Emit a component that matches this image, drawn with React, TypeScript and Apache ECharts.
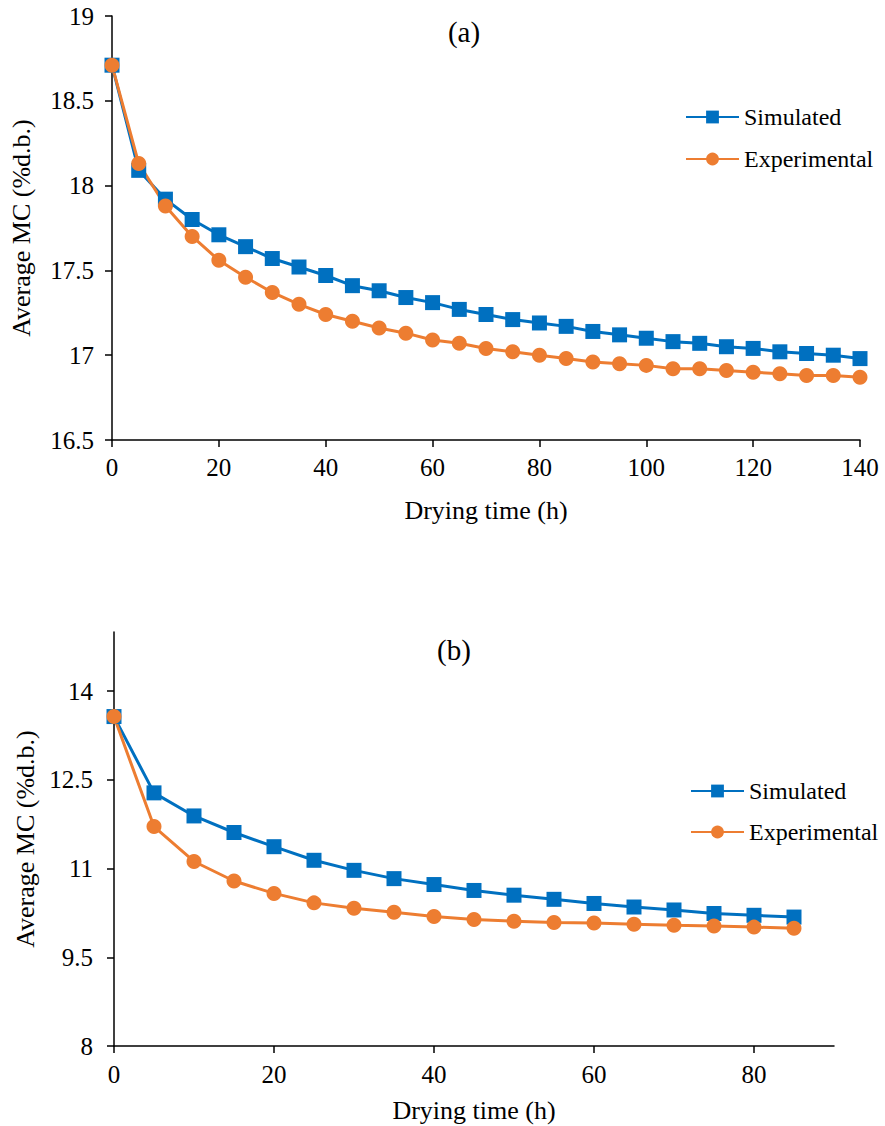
import React, { useEffect, useRef } from "react";
import * as echarts from "echarts";

const timeA = [0,5,10,15,20,25,30,35,40,45,50,55,60,65,70,75,80,85,90,95,100,105,110,115,120,125,130,135,140];
const simA = [18.71,18.09,17.92,17.80,17.71,17.64,17.57,17.52,17.47,17.41,17.38,17.34,17.31,17.27,17.24,17.21,17.19,17.17,17.14,17.12,17.10,17.08,17.07,17.05,17.04,17.02,17.01,17.00,16.98];
const expA = [18.71,18.13,17.88,17.70,17.56,17.46,17.37,17.30,17.24,17.20,17.16,17.13,17.09,17.07,17.04,17.02,17.00,16.98,16.96,16.95,16.94,16.92,16.92,16.91,16.90,16.89,16.88,16.88,16.87];

const timeB = [0,5,10,15,20,25,30,35,40,45,50,55,60,65,70,75,80,85];
const simB = [13.57,12.28,11.89,11.61,11.37,11.14,10.97,10.83,10.73,10.63,10.55,10.48,10.41,10.35,10.30,10.24,10.21,10.18];
const expB = [13.57,11.71,11.12,10.79,10.58,10.42,10.33,10.26,10.19,10.14,10.11,10.09,10.08,10.06,10.04,10.03,10.01,9.99];

const xTicksB = [0,20,40,60,80];
const yTicksB = [8,9.5,11,12.5,14];

const BLUE = "#0070C0";
const ORANGE = "#ED7D31";
const FONT = "Liberation Serif";

export default function App() {
  const ref = useRef<HTMLDivElement>(null);
  useEffect(() => {
    if (!ref.current) return;
    const chart = echarts.init(ref.current, null, { renderer: "svg" });
    const axisCommon = {
      axisLine: { show: true, lineStyle: { color: "#000", width: 1.5 } },
      axisTick: { show: true, inside: false, length: 7, lineStyle: { color: "#000", width: 1.5 } },
      splitLine: { show: false },
      nameTextStyle: { color: "#000", fontFamily: FONT, fontSize: 26 },
    };
    const label = (margin: number) => ({ color: "#000", fontFamily: FONT, fontSize: 25, margin });
    const zipper = (xs: number[], ys: number[]) => xs.map((x, i) => [x, ys[i]]);
    const seriesStyle = (name: string, color: string, symbol: string, xi: number, data: number[][]) => ({
      name,
      type: "line",
      xAxisIndex: xi,
      yAxisIndex: xi,
      data,
      symbol,
      symbolSize: 15,
      showAllSymbol: true,
      lineStyle: { color, width: 3 },
      itemStyle: { color },
      emphasis: { disabled: true },
    });
    const titleStyle = { fontFamily: FONT, fontSize: 29, fontWeight: "normal", color: "#000" };
    const legendText = { fontFamily: FONT, fontSize: 24, color: "#000" };
    chart.setOption({
      animation: false,
      backgroundColor: "#fff",
      title: [
        { text: "(a)", left: 459, top: 12, textAlign: "center", textStyle: titleStyle },
        { text: "(b)", left: 449, top: 630, textAlign: "center", textStyle: titleStyle },
      ],
      legend: [
        {
          orient: "vertical", left: 685, top: 105, padding: 0, itemWidth: 53, itemHeight: 16, itemGap: 18,
          data: ["Simulated", "Experimental"],
          textStyle: legendText,
          selectedMode: false,
        },
        {
          orient: "vertical", left: 690, top: 779, padding: 0, itemWidth: 53, itemHeight: 16, itemGap: 17,
          data: ["Simulated", "Experimental"],
          textStyle: legendText,
          selectedMode: false,
        },
      ],
      grid: [
        { left: 111, top: 16, width: 749, height: 424 },
        { left: 114, top: 632, width: 720, height: 414 },
      ],
      xAxis: [
        {
          ...axisCommon, gridIndex: 0, type: "value", min: 0, max: 140, interval: 20,
          name: "Drying time (h)", nameLocation: "middle", nameGap: 57,
          axisLabel: label(15),
        },
        {
          ...axisCommon, gridIndex: 1, type: "value", min: 0, max: 90,
          name: "Drying time (h)", nameLocation: "middle", nameGap: 51,
          axisTick: { ...axisCommon.axisTick, customValues: xTicksB },
          axisLabel: { ...label(16), customValues: xTicksB },
        },
      ],
      yAxis: [
        {
          ...axisCommon, gridIndex: 0, type: "value", min: 16.5, max: 19, interval: 0.5,
          name: "Average MC (%d.b.)", nameLocation: "middle", nameRotate: 90, nameGap: 78,
          axisLabel: label(18),
        },
        {
          ...axisCommon, gridIndex: 1, type: "value", min: 8, max: 15,
          name: "Average MC (%d.b.)", nameLocation: "middle", nameRotate: 90, nameGap: 64,
          axisTick: { ...axisCommon.axisTick, customValues: yTicksB },
          axisLabel: { ...label(21), customValues: yTicksB },
        },
      ],
      series: [
        seriesStyle("Simulated", BLUE, "rect", 0, zipper(timeA, simA)),
        seriesStyle("Experimental", ORANGE, "circle", 0, zipper(timeA, expA)),
        seriesStyle("Simulated", BLUE, "rect", 1, zipper(timeB, simB)),
        seriesStyle("Experimental", ORANGE, "circle", 1, zipper(timeB, expB)),
      ],
    });
    return () => chart.dispose();
  }, []);
  return (
    <div
      ref={ref}
      style={{ position: "absolute", left: 0, top: 0, width: 885, height: 1126, background: "#fff" }}
    />
  );
}
